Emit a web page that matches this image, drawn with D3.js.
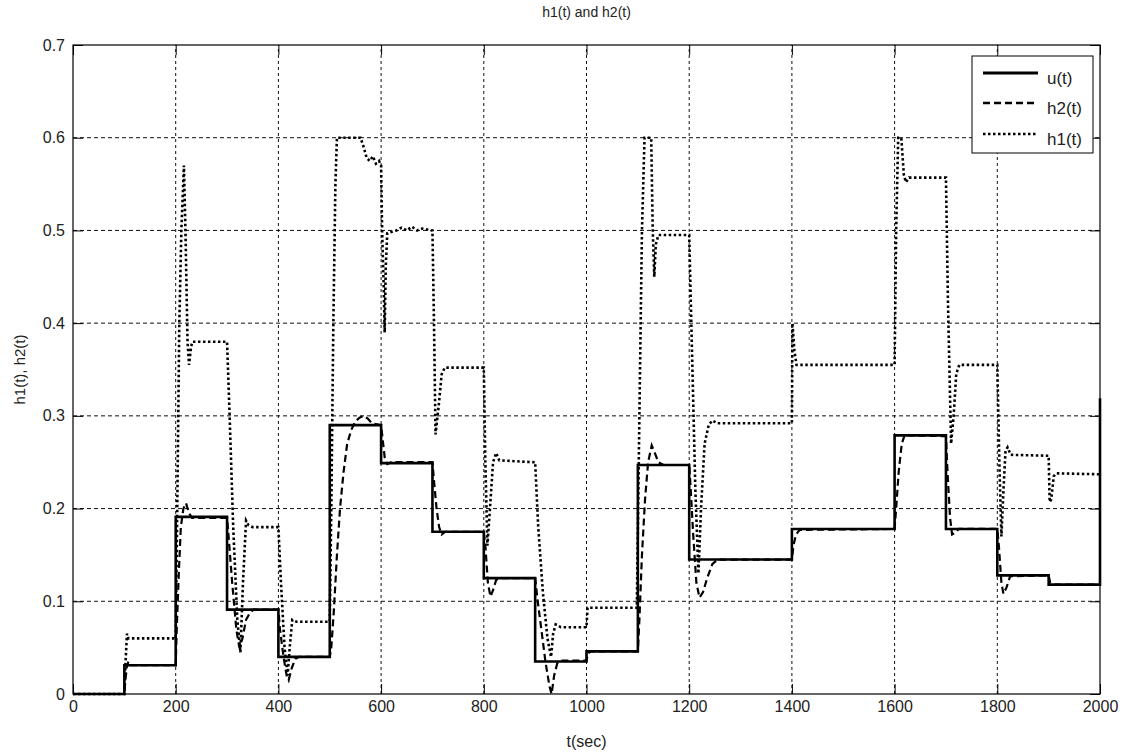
<!DOCTYPE html>
<html>
<head>
<meta charset="utf-8">
<script src="https://cdn.jsdelivr.net/npm/d3@7/dist/d3.min.js"></script>
<style>
  html, body { margin: 0; padding: 0; background: #fff; }
  svg text { font-family: "Liberation Sans", Arial, sans-serif; fill: #222; }
</style>
</head>
<body>
<svg id="chart" width="1125" height="755"></svg>
<script>
// Control input u(t): level held from each switching time onwards
const uTimes  = [0, 100, 200, 300, 400, 500, 600, 700, 800, 900, 1000, 1100, 1200, 1400, 1600, 1700, 1800, 1900, 2000];
const uLevels = [0, 0.031, 0.191, 0.091, 0.040, 0.290, 0.249, 0.175, 0.125, 0.035, 0.046, 0.247, 0.145, 0.178, 0.279, 0.178, 0.128, 0.118, 0.319];

// Tank 1 level h1(t): [time, level]
const h1Data = [
  [0,0],[100,0],[102,0.03],[105,0.065],[108,0.06],[198,0.06],
  [200,0.06],[203,0.2],[207,0.4],[211,0.5],[216,0.57],[219,0.5],[223,0.38],[226,0.355],[230,0.375],[233,0.38],[298,0.38],
  [300,0.38],[305,0.3],[312,0.18],[320,0.08],[326,0.045],[331,0.12],[337,0.187],[342,0.182],[350,0.18],[398,0.18],
  [400,0.18],[405,0.12],[412,0.05],[418,0.02],[422,0.05],[427,0.08],[435,0.078],[498,0.078],
  [500,0.078],[503,0.2],[507,0.4],[511,0.55],[514,0.6],[560,0.6],[566,0.59],[572,0.578],[578,0.575],[584,0.58],[590,0.572],[596,0.575],[600,0.57],
  [602,0.5],[605,0.44],[607,0.39],[609,0.46],[612,0.497],[630,0.5],[640,0.503],[650,0.5],[660,0.504],[670,0.5],[680,0.502],[698,0.5],
  [700,0.5],[703,0.4],[706,0.28],[712,0.31],[718,0.345],[724,0.352],[797,0.352],
  [800,0.352],[803,0.25],[807,0.16],[812,0.2],[818,0.25],[824,0.26],[830,0.252],[898,0.25],
  [900,0.25],[906,0.18],[915,0.11],[924,0.06],[931,0.04],[935,0.065],[940,0.075],[950,0.072],[998,0.072],
  [1000,0.072],[1002,0.093],[1095,0.093],
  [1098,0.093],[1103,0.3],[1108,0.5],[1113,0.6],[1126,0.6],[1129,0.5],[1132,0.45],[1135,0.485],[1140,0.495],[1198,0.495],
  [1200,0.495],[1205,0.38],[1212,0.22],[1218,0.13],[1223,0.2],[1230,0.27],[1238,0.29],[1245,0.295],[1255,0.292],[1398,0.292],
  [1400,0.292],[1401,0.4],[1405,0.37],[1409,0.355],[1598,0.355],
  [1600,0.355],[1603,0.5],[1607,0.6],[1613,0.6],[1618,0.56],[1622,0.552],[1628,0.557],[1698,0.557],
  [1700,0.557],[1704,0.42],[1710,0.27],[1715,0.3],[1720,0.345],[1726,0.355],[1797,0.355],
  [1800,0.355],[1804,0.25],[1808,0.17],[1812,0.22],[1816,0.262],[1820,0.266],[1826,0.258],[1898,0.257],
  [1900,0.257],[1902,0.207],[1905,0.21],[1910,0.235],[1915,0.238],[2000,0.237]
];

// Tank 2 level h2(t): [time, level]
const h2Data = [
  [0,0],[100,0],[102,0.015],[105,0.03],[108,0.035],[112,0.031],[200,0.031],
  [202,0.07],[206,0.13],[210,0.18],[215,0.2],[220,0.206],[226,0.195],[232,0.19],[300,0.19],
  [303,0.17],[310,0.12],[318,0.07],[324,0.05],[330,0.06],[337,0.08],[345,0.088],[352,0.091],[400,0.091],
  [403,0.07],[410,0.04],[416,0.02],[420,0.015],[426,0.028],[433,0.038],[440,0.04],[500,0.04],
  [503,0.05],[508,0.09],[514,0.15],[520,0.2],[527,0.24],[534,0.27],[542,0.285],[550,0.294],[558,0.298],[566,0.3],[574,0.297],[582,0.292],[600,0.29],
  [603,0.275],[607,0.255],[612,0.248],[620,0.25],[700,0.25],
  [703,0.23],[708,0.2],[713,0.18],[718,0.172],[725,0.175],[800,0.175],
  [803,0.16],[808,0.12],[813,0.105],[818,0.112],[824,0.123],[830,0.125],[900,0.125],
  [905,0.1],[912,0.07],[920,0.035],[928,0.008],[932,0.0],[937,0.02],[943,0.033],[950,0.036],[1000,0.036],
  [1003,0.044],[1010,0.046],[1100,0.046],
  [1103,0.08],[1108,0.15],[1114,0.21],[1120,0.25],[1127,0.268],[1133,0.26],[1140,0.25],[1150,0.247],[1200,0.247],
  [1203,0.22],[1208,0.17],[1214,0.12],[1220,0.104],[1227,0.11],[1235,0.125],[1245,0.14],[1255,0.145],[1400,0.145],
  [1403,0.16],[1408,0.172],[1415,0.177],[1600,0.178],
  [1603,0.2],[1608,0.24],[1614,0.27],[1620,0.28],[1630,0.279],[1700,0.278],
  [1703,0.24],[1708,0.19],[1712,0.172],[1718,0.174],[1725,0.178],[1800,0.178],
  [1803,0.16],[1808,0.12],[1812,0.108],[1818,0.115],[1825,0.127],[1900,0.128],
  [1903,0.12],[1910,0.118],[2000,0.118]
];

const xTicks = [0, 200, 400, 600, 800, 1000, 1200, 1400, 1600, 1800, 2000];
const yTicks = [0, 0.1, 0.2, 0.3, 0.4, 0.5, 0.6, 0.7];
const legendLabels = ["u(t)", "h2(t)", "h1(t)"];

const W = 1125, H = 755;
const margin = { left: 73, right: 25, top: 45, bottom: 61 };
const plotW = W - margin.left - margin.right;
const plotH = H - margin.top - margin.bottom;

const svg = d3.select("#chart");
svg.append("rect").attr("width", W).attr("height", H).attr("fill", "#fff");

const x = d3.scaleLinear().domain([0, 2000]).range([margin.left, margin.left + plotW]);
const y = d3.scaleLinear().domain([0, 0.7]).range([margin.top + plotH, margin.top]);

const g = svg.append("g");

// grid
g.append("g").selectAll("line").data(xTicks.slice(1, -1)).join("line")
  .attr("x1", d => x(d)).attr("x2", d => x(d))
  .attr("y1", y(0)).attr("y2", y(0.7))
  .attr("stroke", "#111").attr("stroke-width", 1).attr("stroke-dasharray", "3,3");
g.append("g").selectAll("line").data(yTicks.slice(1, -1)).join("line")
  .attr("y1", d => y(d)).attr("y2", d => y(d))
  .attr("x1", x(0)).attr("x2", x(2000))
  .attr("stroke", "#111").attr("stroke-width", 1).attr("stroke-dasharray", "4,3");

// axes (inward ticks on all four sides)
const tl = 10;
const bottomAxis = d3.axisBottom(x).tickValues(xTicks).tickSize(-tl).tickPadding(7).tickFormat(d3.format("d"));
const topAxis = d3.axisTop(x).tickValues(xTicks).tickSize(-tl).tickFormat("");
const leftAxis = d3.axisLeft(y).tickValues(yTicks).tickSize(-tl).tickPadding(8)
  .tickFormat(d => d === 0 ? "0" : d3.format(".1f")(d));
const rightAxis = d3.axisRight(y).tickValues(yTicks).tickSize(-tl).tickFormat("");

function styleAxis(sel) {
  sel.select(".domain").remove();
  sel.selectAll(".tick line").attr("stroke", "#000").attr("stroke-width", 1);
  sel.selectAll("text").attr("font-size", 16).attr("fill", "#222");
}
g.append("g").attr("transform", `translate(0,${y(0)})`).call(bottomAxis).call(styleAxis);
g.append("g").attr("transform", `translate(0,${y(0.7)})`).call(topAxis).call(styleAxis);
g.append("g").attr("transform", `translate(${x(0)},0)`).call(leftAxis).call(styleAxis);
g.append("g").attr("transform", `translate(${x(2000)},0)`).call(rightAxis).call(styleAxis);

// series
const lineGen = d3.line().x(d => x(d[0])).y(d => y(d[1]));
const uPoints = [];
uTimes.forEach((t, i) => {
  if (i > 0) uPoints.push([t, uLevels[i - 1]]);
  uPoints.push([t, uLevels[i]]);
});

g.append("path").datum(h1Data).attr("d", lineGen)
  .attr("fill", "none").attr("stroke", "#000").attr("stroke-width", 2.6)
  .attr("stroke-dasharray", "2.5,2.5");
g.append("path").datum(h2Data).attr("d", lineGen)
  .attr("fill", "none").attr("stroke", "#000").attr("stroke-width", 2.2)
  .attr("stroke-dasharray", "7,4");
g.append("path").datum(uPoints).attr("d", lineGen)
  .attr("fill", "none").attr("stroke", "#000").attr("stroke-width", 2.6);

// frame
g.append("rect").attr("x", x(0)).attr("y", y(0.7))
  .attr("width", x(2000) - x(0)).attr("height", y(0) - y(0.7))
  .attr("fill", "none").attr("stroke", "#000").attr("stroke-width", 1.2);

// titles
svg.append("text").attr("x", (x(0) + x(2000)) / 2).attr("y", 17)
  .attr("text-anchor", "middle").attr("font-size", 14).text("h1(t) and h2(t)");
svg.append("text").attr("x", (x(0) + x(2000)) / 2).attr("y", 747)
  .attr("text-anchor", "middle").attr("font-size", 16).text("t(sec)");
svg.append("text").attr("transform", `translate(25,${(y(0) + y(0.7)) / 2}) rotate(-90)`)
  .attr("text-anchor", "middle").attr("font-size", 15).text("h1(t), h2(t)");

// legend
const lg = svg.append("g");
lg.append("rect").attr("x", 972).attr("y", 56).attr("width", 121).attr("height", 97)
  .attr("fill", "#fff").attr("stroke", "#000").attr("stroke-width", 1);
const legendStyles = [
  { w: 3, dash: null },
  { w: 2.4, dash: "7,4" },
  { w: 2.6, dash: "2.5,2.5" }
];
const legendY = [73, 103, 134];
legendLabels.forEach((lab, i) => {
  const ln = lg.append("line").attr("x1", 983).attr("x2", 1038)
    .attr("y1", legendY[i]).attr("y2", legendY[i])
    .attr("stroke", "#000").attr("stroke-width", legendStyles[i].w);
  if (legendStyles[i].dash) ln.attr("stroke-dasharray", legendStyles[i].dash);
  lg.append("text").attr("x", 1047).attr("y", legendY[i] + 11)
    .attr("font-size", 17).text(lab);
});
</script>
</body>
</html>
